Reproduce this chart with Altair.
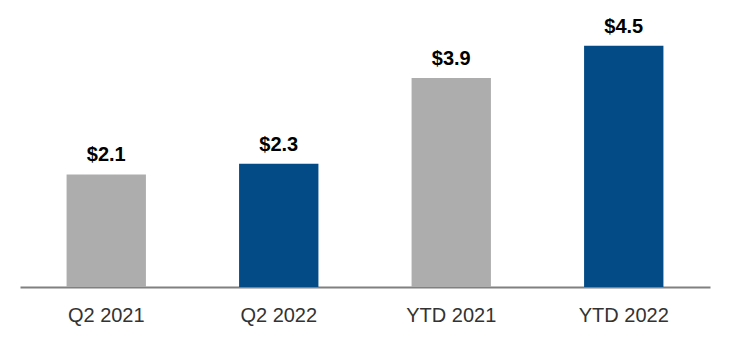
import altair as alt
import pandas as pd

categories = ["Q2 2021", "Q2 2022", "YTD 2021", "YTD 2022"]
values = [2.1, 2.3, 3.9, 4.5]
labels = ["$2.1", "$2.3", "$3.9", "$4.5"]
groups = ["2021", "2022", "2021", "2022"]

df = pd.DataFrame({"cat": categories, "val": values, "label": labels, "grp": groups})

x = alt.X(
    "cat:N",
    sort=categories,
    title=None,
    scale=alt.Scale(paddingInner=0.54, paddingOuter=0.27),
    axis=alt.Axis(
        labelAngle=0,
        labelFont="Liberation Sans",
        labelFontSize=20,
        labelColor="#333333",
        labelPadding=18,
        ticks=False,
        tickSize=0,
        domainColor="#808080",
        domainWidth=2,
        grid=False,
    ),
)
y = alt.Y("val:Q", scale=alt.Scale(domain=[0, 5]), axis=None)

bars = alt.Chart(df).mark_bar().encode(
    x=x,
    y=y,
    color=alt.Color(
        "grp:N",
        scale=alt.Scale(domain=["2021", "2022"], range=["#ADADAD", "#024B86"]),
        legend=None,
    ),
)

text = alt.Chart(df).mark_text(
    baseline="alphabetic",
    dy=-13,
    font="Liberation Sans",
    fontSize=20,
    fontWeight="bold",
    color="#000000",
).encode(x=alt.X("cat:N", sort=categories), y="val:Q", text="label:N")

chart = (
    alt.layer(bars, text)
    .properties(
        width=690,
        height=268,
        autosize=alt.AutoSizeParams(type="none"),
        padding={"left": 20, "top": 19, "right": 20, "bottom": 59},
        background="white",
    )
    .configure_view(stroke=None, strokeWidth=0)
)

chart.save("out.html", embed_options={"renderer": "svg", "actions": False})
